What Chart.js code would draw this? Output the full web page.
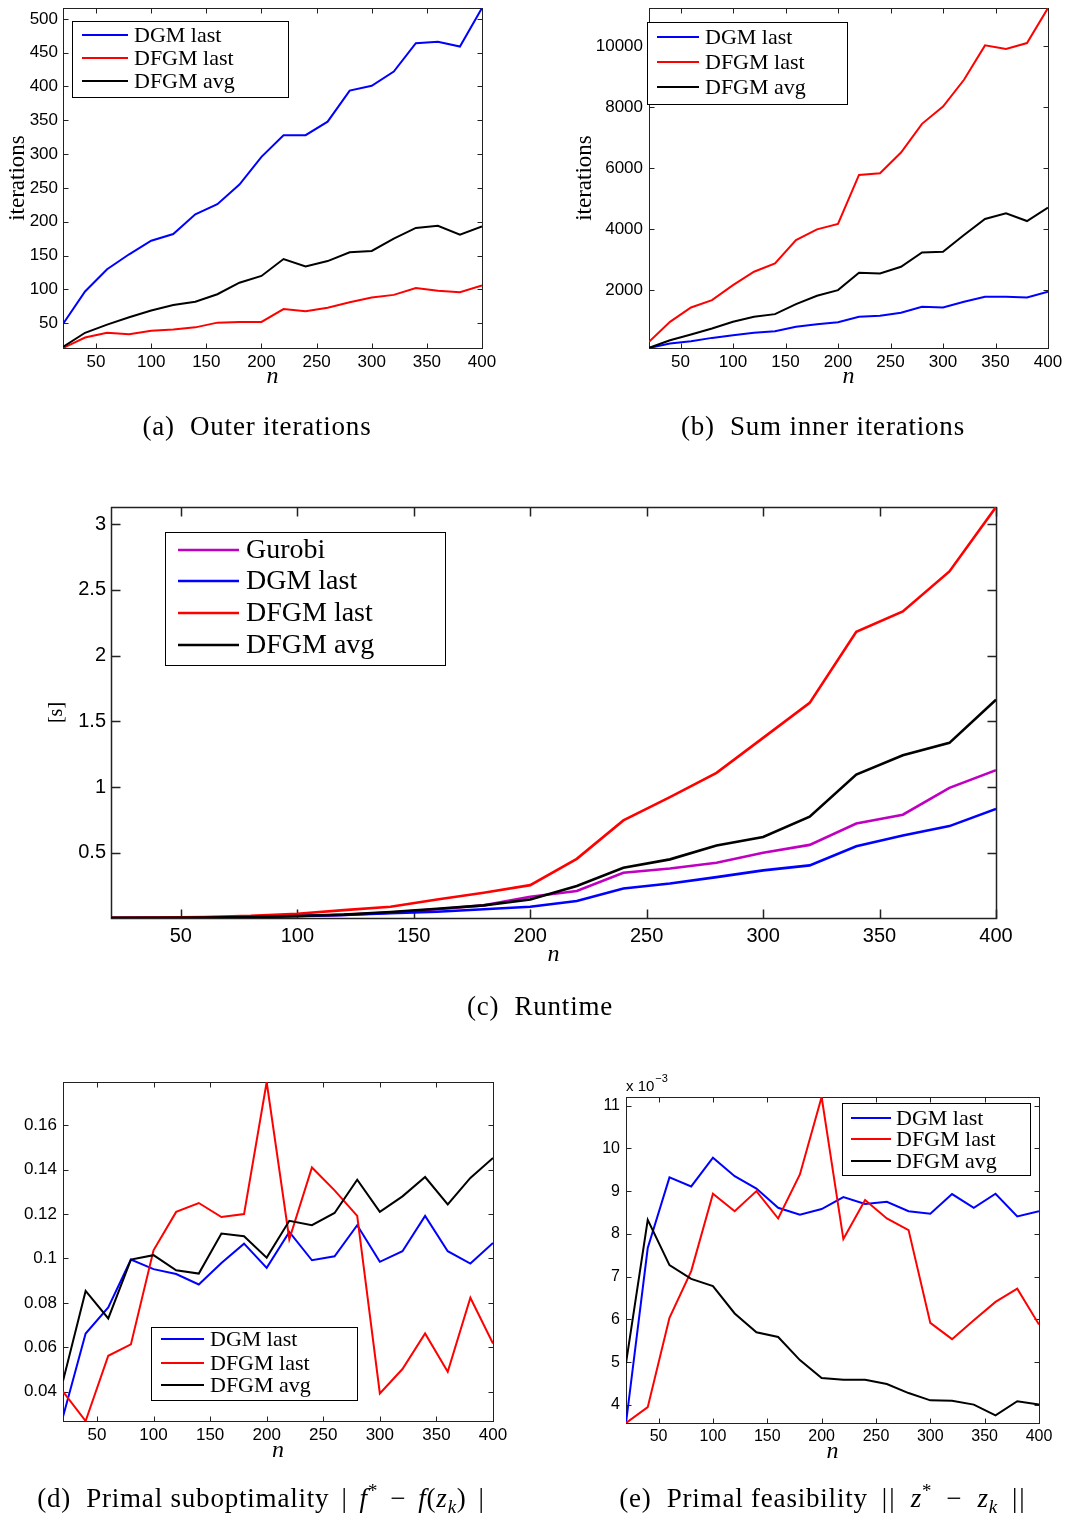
<!DOCTYPE html>
<html>
<head>
<meta charset="utf-8">
<script src="https://cdn.jsdelivr.net/npm/chart.js@4.4.1/dist/chart.umd.min.js"></script>
<style>
  html, body { margin: 0; padding: 0; background: #fff; }
  #page { position: relative; width: 1067px; height: 1517px; overflow: hidden; background: #fff; }
  .layer { position: absolute; left: 0; top: 0; width: 1067px; height: 1517px; }
  .cap { position: absolute; width: 600px; text-align: center; white-space: nowrap; letter-spacing: 0.8px;
         font-family: "Liberation Serif", "Times New Roman", serif; font-size: 27px; line-height: 30px; color: #000; }
  .cap sup, .cap sub { font-size: 70%; line-height: 0; }
  .cap .op { margin: 0 12px; }
  .cap .op2 { margin: 0 14px; letter-spacing: 2px; }
</style>
</head>
<body>
<div id="page">
  <div class="layer"><canvas id="outerChart"></canvas></div>
  <div class="layer"><canvas id="innerChart"></canvas></div>
  <div class="layer"><canvas id="runtimeChart"></canvas></div>
  <div class="layer"><canvas id="suboptChart"></canvas></div>
  <div class="layer"><canvas id="feasChart"></canvas></div>

  <div class="cap" style="left:-43px; top:411px;">(a)&nbsp; Outer iterations</div>
  <div class="cap" style="left:523px; top:411px;">(b)&nbsp; Sum inner iterations</div>
  <div class="cap" style="left:240px; top:991px;">(c)&nbsp; Runtime</div>
  <div class="cap" style="left:-33px; top:1483px;">(d)&nbsp; Primal suboptimality<span class="op">|</span><i>f</i><sup>*</sup><span class="op">−</span><i>f</i>(<i>z</i><sub><i>k</i></sub>)<span class="op">|</span></div>
  <div class="cap" style="left:530px; top:1483px;">(e)&nbsp; Primal feasibility<span class="op2">||</span><i>z</i><sup>*</sup><span class="op2">−</span><i>z</i><sub><i>k</i></sub><span class="op2">||</span></div>
</div>

<script>
// problem sizes
const nValues = [20, 40, 60, 80, 100, 120, 140, 160, 180, 200, 220, 240, 260, 280, 300, 320, 340, 360, 380, 400];
const xTicks = [50, 100, 150, 200, 250, 300, 350, 400];

// (a) outer iterations
const outerDGMLast  = [49, 97, 130, 152, 172, 182, 211, 226, 255, 296, 328, 328, 348, 394, 401, 422, 464, 466, 459, 516];
const outerDFGMLast = [13.5, 29, 36, 34, 39, 41, 44, 51, 52, 52, 71, 68, 73, 81, 88, 92, 102, 98, 96, 106];
const outerDFGMAvg  = [15, 36, 48, 59, 69, 77, 82, 93, 110, 120, 145, 134, 142, 155, 157, 175, 191, 194, 181, 193];
const outerTicks = [50, 100, 150, 200, 250, 300, 350, 400, 450, 500];

// (b) sum of inner iterations
const innerDGMLast  = [100, 246, 323, 432, 520, 597, 652, 794, 882, 947, 1123, 1156, 1255, 1452, 1430, 1616, 1781, 1781, 1759, 1945];
const innerDFGMLast = [301, 959, 1430, 1671, 2164, 2603, 2877, 3644, 3995, 4170, 5781, 5836, 6515, 7458, 8027, 8904, 10033, 9912, 10110, 11260];
const innerDFGMAvg  = [104, 356, 542, 740, 959, 1123, 1211, 1540, 1814, 2000, 2570, 2548, 2767, 3238, 3260, 3808, 4334, 4520, 4268, 4706];
const innerTicks = [2000, 4000, 6000, 8000, 10000];

// (c) runtime [s]
const timeGurobi   = [0.004, 0.005, 0.007, 0.010, 0.018, 0.028, 0.045, 0.070, 0.100, 0.166, 0.209, 0.348, 0.380, 0.424, 0.500, 0.560, 0.723, 0.790, 0.994, 1.128];
const timeDGMLast  = [0.004, 0.005, 0.007, 0.010, 0.019, 0.027, 0.040, 0.052, 0.070, 0.090, 0.133, 0.229, 0.267, 0.315, 0.366, 0.404, 0.550, 0.632, 0.703, 0.834];
const timeDFGMLast = [0.005, 0.007, 0.012, 0.020, 0.036, 0.064, 0.090, 0.145, 0.196, 0.254, 0.454, 0.746, 0.924, 1.108, 1.374, 1.640, 2.180, 2.336, 2.640, 3.130];
const timeDFGMAvg  = [0.005, 0.006, 0.008, 0.012, 0.019, 0.030, 0.050, 0.074, 0.100, 0.145, 0.247, 0.386, 0.450, 0.556, 0.620, 0.774, 1.095, 1.242, 1.336, 1.665];
const timeTicks = [0.5, 1, 1.5, 2, 2.5, 3];

// (d) primal suboptimality
const subDGMLast  = [0.0287, 0.0662, 0.078, 0.0995, 0.0952, 0.093, 0.0883, 0.098, 0.1067, 0.0958, 0.112, 0.0992, 0.101, 0.115, 0.0985, 0.1033, 0.1192, 0.1033, 0.0977, 0.107];
const subDFGMLast = [0.040, 0.0268, 0.0562, 0.0613, 0.1037, 0.121, 0.125, 0.1187, 0.120, 0.1795, 0.1087, 0.141, 0.1307, 0.1192, 0.0392, 0.0502, 0.0662, 0.049, 0.0823, 0.0617];
const subDFGMAvg  = [0.0448, 0.0854, 0.073, 0.0995, 0.1015, 0.0947, 0.0932, 0.1112, 0.110, 0.1004, 0.117, 0.115, 0.1205, 0.1355, 0.121, 0.128, 0.1367, 0.1244, 0.1363, 0.1453];
const subTicks = [0.04, 0.06, 0.08, 0.1, 0.12, 0.14, 0.16];

// (e) primal feasibility, in units of 1e-3
const feasDGMLast  = [3.58, 7.67, 9.32, 9.11, 9.78, 9.35, 9.06, 8.61, 8.45, 8.58, 8.86, 8.70, 8.75, 8.53, 8.47, 8.93, 8.61, 8.94, 8.41, 8.53];
const feasDFGMLast = [3.58, 3.95, 6.04, 7.13, 8.94, 8.53, 9.00, 8.36, 9.39, 11.2, 7.88, 8.79, 8.36, 8.09, 5.92, 5.54, 5.98, 6.41, 6.72, 5.88];
const feasDFGMAvg  = [4.98, 8.33, 7.27, 6.95, 6.78, 6.14, 5.70, 5.59, 5.05, 4.63, 4.59, 4.59, 4.49, 4.28, 4.11, 4.10, 4.01, 3.76, 4.09, 4.01];
const feasTicks = [4, 5, 6, 7, 8, 9, 10, 11];

const PAGE_W = 1067, PAGE_H = 1517;
const SERIF = '"Liberation Serif", "Times New Roman", serif';
const SANS = '"Liberation Sans", Arial, sans-serif';
const BLUE = '#0000ff', RED = '#ff0000', BLACK = '#000000', MAGENTA = '#c000c0';

function series(label, values, color, width, idx) {
  return {
    label: label,
    data: values.map((v, i) => ({ x: nValues[i], y: v })),
    borderColor: color,
    backgroundColor: color,
    borderWidth: width,
    pointRadius: 0,
    tension: 0,
    fill: false,
    order: -idx // later series on top
  };
}

// axes box with inward tick marks on all four sides
const boxFrame = {
  id: 'boxFrame',
  beforeDatasetsDraw(chart, args, o) {
    const { ctx, chartArea: a, scales: { x, y } } = chart;
    ctx.save();
    ctx.strokeStyle = o.color;
    ctx.lineWidth = o.width;
    const l = Math.round(a.left) + 0.5, r = Math.round(a.right) + 0.5;
    const t = Math.round(a.top) + 0.5, b = Math.round(a.bottom) + 0.5;
    ctx.strokeRect(l, t, r - l, b - t);
    ctx.beginPath();
    x.ticks.forEach(tk => {
      const px = Math.round(x.getPixelForValue(tk.value)) + 0.5;
      ctx.moveTo(px, b); ctx.lineTo(px, b - o.length);
      ctx.moveTo(px, t); ctx.lineTo(px, t + o.length);
    });
    y.ticks.forEach(tk => {
      const py = Math.round(y.getPixelForValue(tk.value)) + 0.5;
      ctx.moveTo(l, py); ctx.lineTo(l + o.length, py);
      ctx.moveTo(r, py); ctx.lineTo(r - o.length, py);
    });
    ctx.stroke();
    if (o.multiplier) {
      const m = o.multiplier;
      ctx.fillStyle = '#000';
      ctx.textBaseline = 'alphabetic';
      ctx.font = '15px ' + SANS;
      ctx.fillText('x 10', m.x, m.y);
      const w = ctx.measureText('x 10').width;
      ctx.font = '11px ' + SANS;
      ctx.fillText('\u22123', m.x + w + 1, m.y - 9);
    }
    ctx.restore();
  }
};

// boxed legend placed inside the axes
const boxLegend = {
  id: 'boxLegend',
  afterDatasetsDraw(chart, args, o) {
    const ctx = chart.ctx;
    ctx.save();
    ctx.fillStyle = '#fff';
    ctx.fillRect(o.left, o.top, o.right - o.left, o.bottom - o.top);
    ctx.strokeStyle = '#000';
    ctx.lineWidth = 1;
    ctx.strokeRect(o.left + 0.5, o.top + 0.5, o.right - o.left, o.bottom - o.top);
    ctx.font = o.fontSize + 'px ' + SERIF;
    ctx.textBaseline = 'middle';
    chart.data.datasets.forEach((ds, i) => {
      const y = o.rows[i];
      ctx.strokeStyle = ds.borderColor;
      ctx.lineWidth = ds.borderWidth;
      ctx.beginPath();
      ctx.moveTo(o.lineFrom, y);
      ctx.lineTo(o.lineTo, y);
      ctx.stroke();
      ctx.fillStyle = '#000';
      ctx.fillText(ds.label, o.textX, y + 1);
    });
    ctx.restore();
  }
};

function buildPanel(canvasId, p) {
  const box = p.box;
  const tickLH = p.tickSize * 1.2;
  const yTitleLH = p.yTitle ? p.yTitleSize * 1.2 : 0;
  const padLeft = p.yTitle ? p.yTitleX - yTitleLH / 2 : box.left - 60;
  const yWidth = box.left - padLeft;
  const xTitleLH = 24 * 1.2;
  const xHeight = p.xTitleY - box.bottom + xTitleLH / 2;
  const values = p.datasets.flatMap(d => d.data.map(pt => pt.y));

  return new Chart(document.getElementById(canvasId), {
    type: 'line',
    data: { datasets: p.datasets },
    options: {
      responsive: true,
      maintainAspectRatio: false,
      animation: false,
      layout: {
        padding: {
          left: padLeft,
          top: box.top,
          right: PAGE_W - box.right,
          bottom: PAGE_H - box.bottom - xHeight
        }
      },
      plugins: {
        legend: { display: false },
        tooltip: { enabled: false },
        boxFrame: { color: p.frameColor, width: p.frameWidth, length: p.tickLen, multiplier: p.multiplier },
        boxLegend: p.legend
      },
      scales: {
        x: {
          type: 'linear',
          min: 20,
          max: 400,
          afterBuildTicks: s => { s.ticks = xTicks.map(v => ({ value: v })); },
          afterFit: s => { s.height = xHeight; s.paddingLeft = 0; s.paddingRight = 0; },
          grid: { display: false, drawTicks: false },
          border: { display: false },
          ticks: {
            font: { family: SANS, size: p.tickSize },
            color: '#000',
            padding: p.xLabelY - box.bottom - tickLH / 2,
            maxRotation: 0,
            autoSkip: false,
            callback: v => String(v)
          },
          title: {
            display: true,
            text: 'n',
            color: '#000',
            font: { family: SERIF, size: 24, style: 'italic' },
            padding: 0
          }
        },
        y: {
          type: 'linear',
          min: Math.min(...values),
          max: Math.max(...values),
          afterBuildTicks: s => { s.ticks = p.yTicks.map(v => ({ value: v })); },
          afterFit: s => { s.width = yWidth; s.paddingTop = 0; s.paddingBottom = 0; },
          grid: { display: false, drawTicks: false },
          border: { display: false },
          ticks: {
            font: { family: SANS, size: p.tickSize },
            color: '#000',
            padding: p.yLabelPad,
            autoSkip: false,
            callback: v => String(v)
          },
          title: {
            display: !!p.yTitle,
            text: p.yTitle || '',
            color: '#000',
            font: { family: SERIF, size: p.yTitleSize || 20 },
            padding: 0
          }
        }
      }
    },
    plugins: [boxFrame, boxLegend]
  });
}

const smallLegend = (left, top, right, bottom, rows, lineFrom, lineTo, textX) =>
  ({ left: left, top: top, right: right, bottom: bottom, rows: rows, lineFrom: lineFrom, lineTo: lineTo, textX: textX, fontSize: 22 });

buildPanel('outerChart', {
  box: { left: 63, top: 8, right: 482, bottom: 348 },
  datasets: [
    series('DGM last', outerDGMLast, BLUE, 2, 0),
    series('DFGM last', outerDFGMLast, RED, 2, 1),
    series('DFGM avg', outerDFGMAvg, BLACK, 2, 2)
  ],
  yTicks: outerTicks,
  tickSize: 17, yLabelPad: 5, xLabelY: 362, xTitleY: 377,
  yTitle: 'iterations', yTitleSize: 23, yTitleX: 18,
  frameColor: '#222', frameWidth: 1, tickLen: 5,
  legend: smallLegend(72, 21, 288, 97, [35, 58, 81], 82, 128, 134)
});

buildPanel('innerChart', {
  box: { left: 649, top: 8, right: 1048, bottom: 348 },
  datasets: [
    series('DGM last', innerDGMLast, BLUE, 2, 0),
    series('DFGM last', innerDFGMLast, RED, 2, 1),
    series('DFGM avg', innerDFGMAvg, BLACK, 2, 2)
  ],
  yTicks: innerTicks,
  tickSize: 17, yLabelPad: 6, xLabelY: 362, xTitleY: 377,
  yTitle: 'iterations', yTitleSize: 23, yTitleX: 585,
  frameColor: '#222', frameWidth: 1, tickLen: 5,
  legend: smallLegend(647, 22, 847, 104, [37, 62, 87], 657, 699, 705)
});

buildPanel('runtimeChart', {
  box: { left: 111, top: 507, right: 996, bottom: 918 },
  datasets: [
    series('Gurobi', timeGurobi, MAGENTA, 2.6, 0),
    series('DGM last', timeDGMLast, BLUE, 2.6, 1),
    series('DFGM last', timeDFGMLast, RED, 2.6, 2),
    series('DFGM avg', timeDFGMAvg, BLACK, 2.6, 3)
  ],
  yTicks: timeTicks,
  tickSize: 20, yLabelPad: 5, xLabelY: 936, xTitleY: 955,
  yTitle: '[s]', yTitleSize: 20, yTitleX: 57,
  frameColor: '#222', frameWidth: 1.5, tickLen: 9,
  legend: { left: 165, right: 445, top: 532, bottom: 665, rows: [550, 581, 613, 645], lineFrom: 178, lineTo: 239, textX: 246, fontSize: 28 }
});

buildPanel('suboptChart', {
  box: { left: 63, top: 1082, right: 493, bottom: 1421 },
  datasets: [
    series('DGM last', subDGMLast, BLUE, 2, 0),
    series('DFGM last', subDFGMLast, RED, 2, 1),
    series('DFGM avg', subDFGMAvg, BLACK, 2, 2)
  ],
  yTicks: subTicks,
  tickSize: 17, yLabelPad: 6, xLabelY: 1435, xTitleY: 1451,
  frameColor: '#222', frameWidth: 1, tickLen: 5,
  legend: smallLegend(151, 1327, 357, 1400, [1339, 1363, 1385], 161, 204, 210)
});

buildPanel('feasChart', {
  box: { left: 626, top: 1097, right: 1039, bottom: 1423 },
  datasets: [
    series('DGM last', feasDGMLast, BLUE, 2, 0),
    series('DFGM last', feasDFGMLast, RED, 2, 1),
    series('DFGM avg', feasDFGMAvg, BLACK, 2, 2)
  ],
  yTicks: feasTicks,
  tickSize: 16, yLabelPad: 6, xLabelY: 1437, xTitleY: 1452,
  frameColor: '#222', frameWidth: 1, tickLen: 5,
  multiplier: { x: 626, y: 1091 },
  legend: smallLegend(842, 1103, 1030, 1175, [1118, 1139, 1161], 851, 891, 896)
});
</script>
</body>
</html>
